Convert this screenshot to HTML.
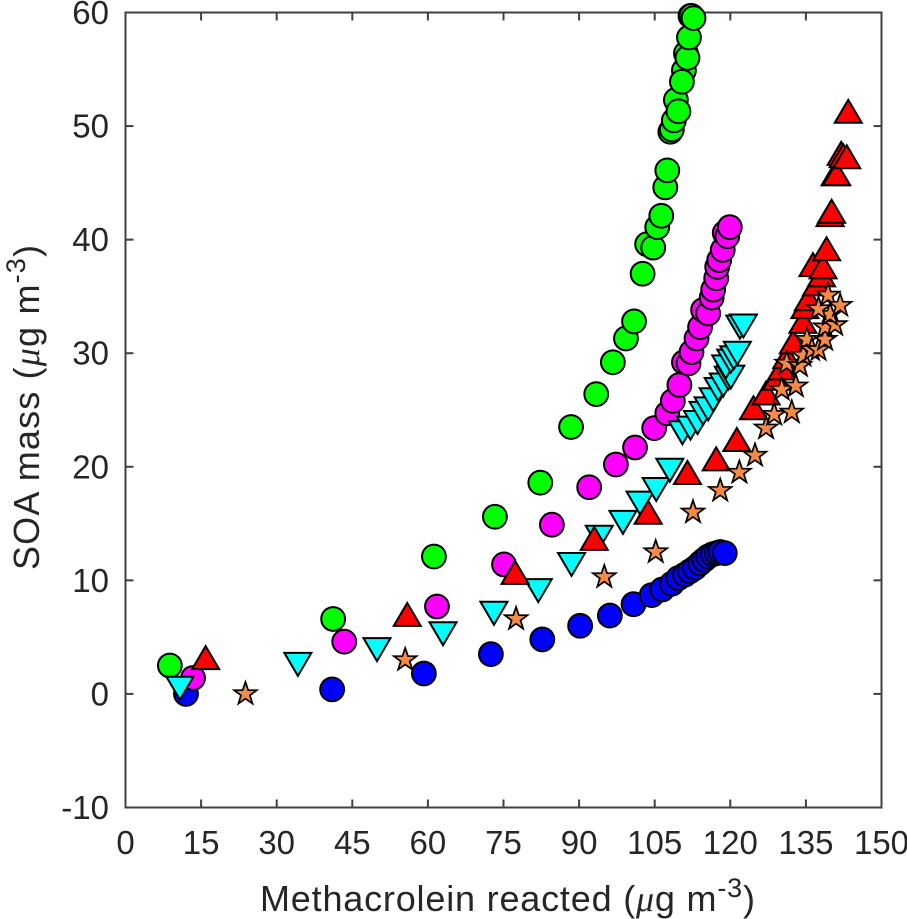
<!DOCTYPE html>
<html>
<head>
<meta charset="utf-8">
<style>
html,body{margin:0;padding:0;background:#fff;width:907px;height:919px;overflow:hidden}
svg{display:block;font-family:"Liberation Sans",sans-serif}
text{fill:#262626}
</style>
</head>
<body>
<svg id="chart" xmlns="http://www.w3.org/2000/svg" width="907" height="919" viewBox="0 0 907 919">
  <rect width="907" height="919" fill="#fff"/>
  <g id="axes"></g>
  <g id="marks"></g>
  <text x="260" y="911" font-size="36" textLength="495" lengthAdjust="spacing">Methacrolein reacted (<tspan font-family="'Liberation Serif',serif" font-style="italic">μ</tspan>g m<tspan dy="-14" font-size="27">-3</tspan><tspan dy="14">)</tspan></text>
  <text transform="translate(39,570) rotate(-90)" font-size="36" textLength="325" lengthAdjust="spacing">SOA mass (<tspan font-family="'Liberation Serif',serif" font-style="italic">μ</tspan>g m<tspan dy="-14" font-size="27">-3</tspan><tspan dy="14">)</tspan></text>
</svg>
<script>
const xTicks = [0, 15, 30, 45, 60, 75, 90, 105, 120, 135, 150];
const yTicks = [-10, 0, 10, 20, 30, 40, 50, 60];
const xDomain = [0, 150];
const yDomain = [-10, 60];

const blueX = [12, 41, 59.2, 72.5, 82.7, 90.2, 96.1, 100.8, 104.4, 106.5, 108.4, 109.7, 111, 112, 113, 114, 114.8, 115.6, 116.5, 117.3, 118, 118.9];
const blueY = [0, 0.4, 1.8, 3.5, 4.8, 6, 6.9, 7.9, 8.7, 9.2, 9.7, 10.2, 10.5, 10.8, 11.1, 11.5, 11.8, 12.1, 12.3, 12.4, 12.5, 12.4];

const greenX = [8.8, 41.2, 61.2, 73.3, 82.3, 88.4, 93.4, 96.7, 99.3, 100.9, 102.6, 103.5, 104.7, 105.5, 106.3, 107.1, 107.5, 108.1, 108.4, 108.8, 109.2, 109.7, 110.8, 110.4, 111.2, 111.5, 111.8, 112.1, 112.3, 112.7];
const greenY = [2.5, 6.6, 12.1, 15.6, 18.6, 23.5, 26.4, 29.2, 31.3, 32.8, 37, 39.6, 39.3, 41.1, 42.1, 44.6, 46.1, 49.5, 49.7, 50.5, 52.3, 51.3, 54.9, 53.9, 56.4, 56, 57.8, 59.7, 59.7, 59.5];

const magentaX = [13.4, 43.4, 61.8, 75.1, 84.6, 92, 97.3, 101.1, 104.9, 107.5, 108.6, 109.9, 110.8, 111.7, 112.3, 113.3, 114, 114.6, 115.6, 116.3, 116.6, 117.2, 117.4, 117.8, 118.5, 118.9, 119.4, 119.9];
const magentaY = [1.4, 4.6, 7.7, 11.4, 14.9, 18.2, 20.2, 21.7, 23.4, 24.7, 25.8, 27.2, 29.2, 29.1, 30.1, 31.3, 32.3, 33.8, 33.5, 34.9, 35.6, 36.6, 37.6, 38.2, 39.1, 40.6, 40.3, 41.1];

const cyanX = [10.8, 34.2, 49.9, 63, 73.1, 81.9, 88.5, 94, 98.7, 102.1, 105.3, 108, 110.5, 112.1, 113.5, 114.6, 115.6, 116.6, 117.6, 118.6, 119.6, 120.1, 119.1, 120.1, 120.7, 121.4, 121.9, 122.6];
const cyanY = [0.5, 2.6, 3.9, 5.3, 7.1, 9.1, 11.4, 13.8, 15.1, 16.8, 18, 19.7, 23, 23.4, 23.9, 24.7, 25.1, 25.9, 26.8, 27.2, 27.8, 27.9, 28.8, 29.3, 29.6, 30, 32.3, 32.4];

const redX = [15.9, 55.9, 77.3, 93, 103.7, 111.5, 117.2, 121.3, 124.6, 127.1, 129.2, 130.2, 131.2, 132.5, 134.4, 134.8, 135.5, 136.4, 137.1, 138.1, 138.4, 139.1, 139.8, 140.1, 140.8, 141.1, 142, 142.4, 143.1, 143.4];
const redY = [3.2, 7, 10.7, 13.7, 16, 19.5, 20.7, 22.4, 25.2, 26.5, 27.8, 28.7, 29.7, 31, 32.8, 34.1, 34.8, 37.8, 36.1, 36.9, 37.6, 39.2, 42.2, 42.5, 45.8, 45.8, 47.6, 47.4, 47.3, 51.3];

const starX = [23.8, 55.5, 77.5, 95, 105.2, 112.6, 118, 121.8, 124.9, 127.1, 128.7, 132.2, 130.2, 133, 131.2, 133.8, 134.5, 135.2, 136.2, 137.5, 138.8, 138.8, 140.8, 139.8, 137.5, 139.4, 141.8];
const starY = [0, 3, 6.6, 10.3, 12.5, 16, 17.9, 19.5, 21, 23.4, 24.6, 24.8, 26.8, 27.1, 29.1, 28.9, 29.8, 31.2, 30.3, 30.3, 31.2, 32.3, 32.5, 33.4, 33.9, 35.1, 34.2];

const NS = 'http://www.w3.org/2000/svg';
const plot = {left: 125.5, right: 881.5, top: 12.5, bottom: 807.5};
function xScale(v) { return plot.left + (v - xDomain[0]) / (xDomain[1] - xDomain[0]) * (plot.right - plot.left); }
function yScale(v) { return plot.bottom - (v - yDomain[0]) / (yDomain[1] - yDomain[0]) * (plot.bottom - plot.top); }
function make(tag, attrs, parent) {
  const el = document.createElementNS(NS, tag);
  for (const k in attrs) el.setAttribute(k, attrs[k]);
  parent.appendChild(el);
  return el;
}
const axes = document.getElementById('axes');
const marks = document.getElementById('marks');
const axisStyle = {stroke: '#404040', 'stroke-width': 2, fill: 'none'};

const frame = make('rect', Object.assign({x: plot.left, y: plot.top, width: plot.right - plot.left, height: plot.bottom - plot.top}, axisStyle), axes);



xTicks.forEach(function (t) {
  const x = xScale(t);
  const bottomTick = make('line', Object.assign({x1: x, x2: x, y1: plot.bottom, y2: plot.bottom - 8}, axisStyle), axes);
  
  
  const topTick = make('line', Object.assign({x1: x, x2: x, y1: plot.top, y2: plot.top + 8}, axisStyle), axes);
  
  
  const label = make('text', {x: x, y: 854, 'font-size': 33, 'text-anchor': 'middle'}, axes);
  
  
  label.textContent = t;
});

yTicks.forEach(function (t) {
  const y = yScale(t);
  const leftTick = make('line', Object.assign({x1: plot.left, x2: plot.left + 8, y1: y, y2: y}, axisStyle), axes);
  
  
  const rightTick = make('line', Object.assign({x1: plot.right, x2: plot.right - 8, y1: y, y2: y}, axisStyle), axes);
  
  
  const label = make('text', {x: 109, y: y + 11.5, 'font-size': 33, 'text-anchor': 'end'}, axes);
  
  
  label.textContent = t;
});

function starPoints(cx, cy, R, r) {
  const pts = [];
  for (let i = 0; i < 10; i++) {
    const a = -Math.PI / 2 + i * Math.PI / 5;
    const rad = i % 2 ? r : R;
    pts.push((cx + rad * Math.cos(a)).toFixed(2) + ',' + (cy + rad * Math.sin(a)).toFixed(2));
  }
  return pts.join(' ');
}
const pointStyle = {stroke: '#000', 'stroke-width': 2, 'stroke-linejoin': 'miter'};
function drawCircle(g, x, y, fill) {
  return make('circle', Object.assign({cx: x, cy: y, r: 11.9, fill: fill}, pointStyle), g);
}
function drawUp(g, x, y, fill) {
  return make('polygon', Object.assign({points: (x - 13.5) + ',' + (y + 11.5) + ' ' + (x + 13.5) + ',' + (y + 11.5) + ' ' + x + ',' + (y - 11.5), fill: fill}, pointStyle), g);
}
function drawDown(g, x, y, fill) {
  return make('polygon', Object.assign({points: (x - 13.5) + ',' + (y - 11.5) + ' ' + (x + 13.5) + ',' + (y - 11.5) + ' ' + x + ',' + (y + 11.5), fill: fill}, pointStyle), g);
}
function drawStar(g, x, y, fill) {
  return make('polygon', Object.assign({points: starPoints(x, y, 12, 4.7), fill: fill}, pointStyle, {'stroke-width': 1.7}), g);
}

function drawSeries(name, xs, ys, fill, shape) {
  const g = make('g', {}, marks);
  
  
  xs.forEach(function (v, i) {
    const mark = shape(g, xScale(v), yScale(ys[i]), fill);
    
    
  });
}
drawSeries('blue-circles', blueX, blueY, '#0000ff', drawCircle);
drawSeries('green-circles', greenX, greenY, '#00ff00', drawCircle);
drawSeries('magenta-circles', magentaX, magentaY, '#ff00ff', drawCircle);
drawSeries('cyan-triangles', cyanX, cyanY, '#00ffff', drawDown);
drawSeries('red-triangles', redX, redY, '#ff0000', drawUp);
drawSeries('orange-stars', starX, starY, '#f58c46', drawStar);
</script>
</body>
</html>
